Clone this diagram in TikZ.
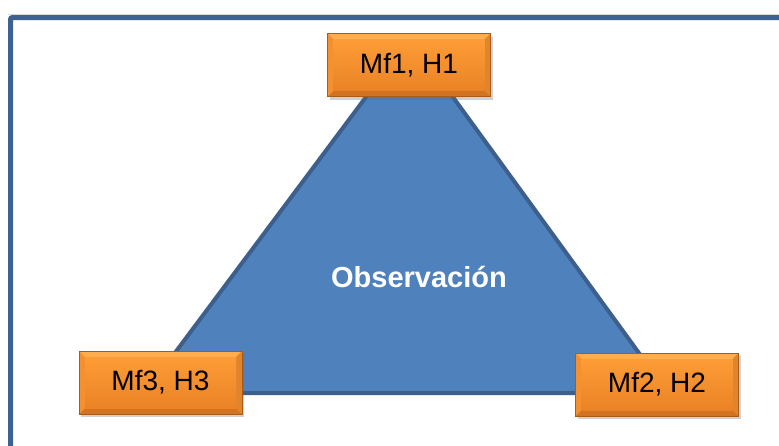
\documentclass[tikz,border=0pt]{standalone}
\usepackage{fontspec}
\setmainfont{Liberation Sans}
\usetikzlibrary{shadows}
\definecolor{frameblue}{HTML}{3D6291}
\definecolor{trifill}{HTML}{4F81BD}
\definecolor{triedge}{HTML}{3C5F8C}
\definecolor{orfaceA}{HTML}{FD9C36}
\definecolor{orfaceB}{HTML}{EA8326}
\definecolor{orlight}{HTML}{FFAE4F}
\definecolor{orside}{HTML}{F59030}
\definecolor{ordark}{HTML}{D27322}
\tikzset{
  orangebox/.style={rectangle, minimum width=163pt, minimum height=63pt, inner sep=0pt,
    top color=orfaceA, bottom color=orfaceB, draw=ordark!80!black, line width=0.4pt,
    drop shadow={shadow xshift=2pt, shadow yshift=-3pt, opacity=0.3, fill=black!60},
    font=\fontsize{28}{32}\selectfont, text=black,
    path picture={
      \coordinate (nw) at (path picture bounding box.north west);
      \coordinate (se) at (path picture bounding box.south east);
      \coordinate (ne) at (path picture bounding box.north east);
      \coordinate (sw) at (path picture bounding box.south west);
      \fill[orlight] (nw) -- (ne) -- ([xshift=-6pt,yshift=-6pt]ne) -- ([xshift=6pt,yshift=-6pt]nw) -- cycle;
      \fill[ordark] (sw) -- (se) -- ([xshift=-6pt,yshift=6pt]se) -- ([xshift=6pt,yshift=6pt]sw) -- cycle;
      \fill[orside] (nw) -- ([xshift=6pt,yshift=-6pt]nw) -- ([xshift=6pt,yshift=6pt]sw) -- (sw) -- cycle;
      \fill[orside!92!black] (ne) -- ([xshift=-6pt,yshift=-6pt]ne) -- ([xshift=-6pt,yshift=6pt]se) -- (se) -- cycle;
      \shade[top color=orfaceA, bottom color=orfaceB] ([xshift=6pt,yshift=-6pt]nw) rectangle ([xshift=-6pt,yshift=6pt]se);
    }},
  tri/.style={fill=trifill, draw=triedge, line width=4pt, line join=round},
}
\begin{document}
\begin{tikzpicture}[x=1pt,y=-1pt]
\useasboundingbox (0,0) rectangle (779,445);
\clip (0,0) rectangle (779,445);
\fill[white] (0,0) rectangle (779,445);
% frame
\draw[black!15, line width=1pt] (8,14) -- (790,14);
\draw[frameblue, line width=5pt, rounded corners=2pt] (10.5,17.5) rectangle (800,470);
% triangle
\coordinate (apex) at (410,38);
\coordinate (bl) at (145,393);
\coordinate (br) at (668,393);
\draw[tri] (apex) -- (bl) -- (br) -- cycle;
\node[text=white, font=\bfseries\fontsize{29}{32}\selectfont] (obs) at (419,277) {Observación};
% boxes
\node[orangebox] (m1) at (409,65) {Mf1, H1};
\node[orangebox] (m3) at (160.5,382.5) {Mf3, H3};
\node[orangebox] (m2) at (657,384.5) {Mf2, H2};
\end{tikzpicture}
\end{document}
